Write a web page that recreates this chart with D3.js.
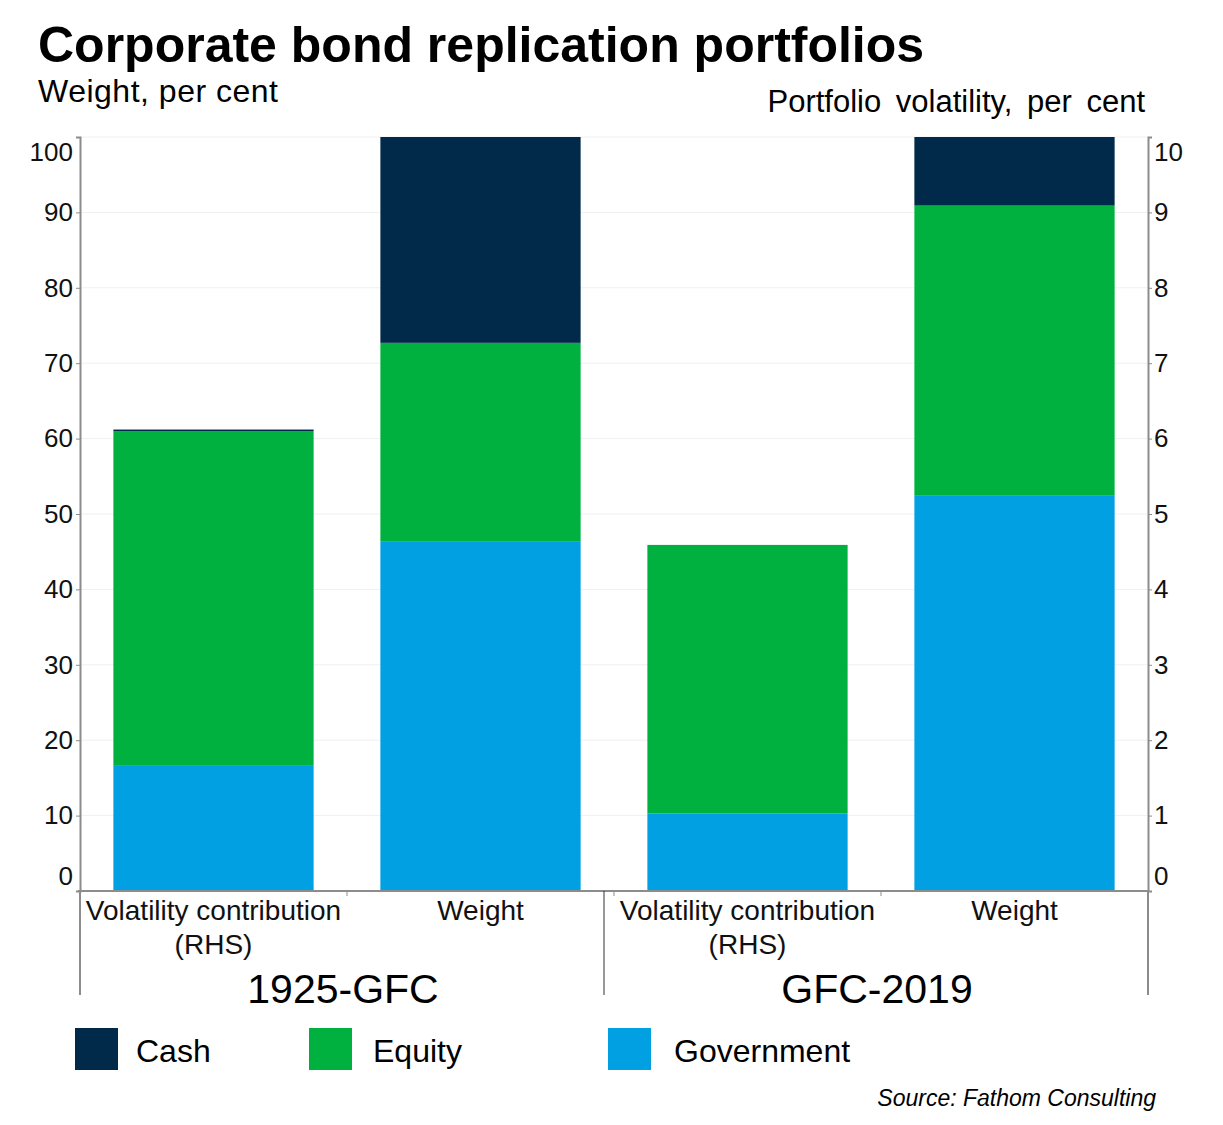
<!DOCTYPE html>
<html><head><meta charset="utf-8">
<script src="https://cdn.jsdelivr.net/npm/d3@7"></script>
<style>body{margin:0;background:#fff;font-family:"Liberation Sans",Arial,sans-serif}</style>
</head><body>
<svg id="c" width="1223" height="1125"></svg>
<script>
// Data
const groups = ["1925-GFC", "GFC-2019"];
const categories = ["Volatility contribution (RHS)", "Weight", "Volatility contribution (RHS)", "Weight"];
const categoryGroup = [0, 0, 1, 1];
const usesRHS = [true, false, true, false];
const seriesNames = ["Government", "Equity", "Cash"];
const government = [1.67, 46.4, 1.03, 52.5];
const equity = [4.43, 26.3, 3.56, 38.4];
const cash = [0.02, 27.3, 0.0, 9.1];
const leftTicks = [0,10,20,30,40,50,60,70,80,90,100];
const rightTicks = [0,1,2,3,4,5,6,7,8,9,10];
const colors = {Cash:"#012a4a", Equity:"#00b140", Government:"#00a0e3"};

const svg = d3.select("#c");
const L = 80, R = 1148, T = 137, B = 891;
const x = d3.scaleBand().domain(d3.range(categories.length)).range([L, R]).paddingInner(0.25).paddingOuter(0.125);
const yL = d3.scaleLinear().domain([0,100]).range([B, T]);
const yR = d3.scaleLinear().domain([0,10]).range([B, T]);

// gridlines
svg.append("g").selectAll("line").data(leftTicks.slice(1)).join("line")
  .attr("x1", L).attr("x2", R).attr("y1", d=>yL(d)).attr("y2", d=>yL(d))
  .attr("stroke", "#f0f0f0").attr("stroke-width", 1);

// stacked bars
const rows = categories.map((c,i)=>({i, Government:government[i], Equity:equity[i], Cash:cash[i]}));
const stack = d3.stack().keys(seriesNames)(rows);
svg.append("g").selectAll("g").data(stack).join("g")
  .attr("fill", s=>colors[s.key])
  .selectAll("rect").data(s=>s).join("rect")
  .attr("x", d=>x(d.data.i))
  .attr("width", x.bandwidth())
  .attr("y", d=>{const y = usesRHS[d.data.i]?yR:yL; return y(d[1]);})
  .attr("height", d=>{const y = usesRHS[d.data.i]?yR:yL; return y(d[0])-y(d[1]);});

const fs = 26;
// left axis
const gl = svg.append("g").attr("transform",`translate(${L},0)`)
  .call(d3.axisLeft(yL).tickValues(leftTicks).tickSize(4).tickPadding(3));
gl.select(".domain").attr("stroke","#8c8c8c").attr("stroke-width",2);
gl.selectAll(".tick line").attr("stroke","#8c8c8c");
gl.selectAll(".tick text").attr("font-size",fs).attr("font-family","Liberation Sans, Arial").attr("fill","#111")
  .attr("dy", d=> d===100 ? "0.92em" : d===0 ? "-0.25em" : "0.32em");
// right axis
const gr = svg.append("g").attr("transform",`translate(${R},0)`)
  .call(d3.axisRight(yR).tickValues(rightTicks).tickSize(4).tickPadding(2));
gr.select(".domain").attr("stroke","#8c8c8c").attr("stroke-width",2);
gr.selectAll(".tick line").attr("stroke","#8c8c8c");
gr.selectAll(".tick text").attr("font-size",fs).attr("font-family","Liberation Sans, Arial").attr("fill","#111")
  .attr("dy", d=> d===10 ? "0.92em" : d===0 ? "-0.25em" : "0.32em");

// bottom axis line and category boundary ticks
svg.append("line").attr("x1",L-2).attr("x2",R+1).attr("y1",B).attr("y2",B).attr("stroke","#8c8c8c").attr("stroke-width",2);
const step = x.step();
svg.append("g").selectAll("line").data(d3.range(categories.length+1)).join("line")
  .attr("x1", i=>x(0)-x.step()*x.paddingOuter()+i*step).attr("x2", i=>x(0)-x.step()*x.paddingOuter()+i*step)
  .attr("y1",B).attr("y2",B+5).attr("stroke","#8c8c8c").attr("stroke-width",1);
// vertical extension lines
svg.append("line").attr("x1",L).attr("x2",L).attr("y1",B).attr("y2",995).attr("stroke","#8c8c8c").attr("stroke-width",2);
svg.append("line").attr("x1",R).attr("x2",R).attr("y1",B).attr("y2",995).attr("stroke","#8c8c8c").attr("stroke-width",2);
svg.append("line").attr("x1",604).attr("x2",604).attr("y1",B).attr("y2",995).attr("stroke","#333").attr("stroke-width",1);

// category labels
categories.forEach((c,i)=>{
  const cx = x(i)+x.bandwidth()/2;
  const parts = c.includes("(RHS)") ? ["Volatility contribution","(RHS)"] : [c];
  parts.forEach((p,j)=>{
    svg.append("text").attr("x",cx).attr("y",920+j*34).attr("text-anchor","middle")
      .attr("font-size",28).attr("fill","#111").text(p);
  });
});
// group labels
groups.forEach((g,k)=>{
  const idx = d3.range(categories.length).filter(i=>categoryGroup[i]===k);
  const x0 = x(idx[0]), x1 = x(idx[idx.length-1])+x.bandwidth();
  svg.append("text").attr("x",(x0+x1)/2 - 4).attr("y",1003).attr("text-anchor","middle")
    .attr("font-size",41).attr("fill","#000").text(g);
});

// titles
svg.append("text").attr("x",38).attr("y",62).attr("font-size",50).attr("font-weight","bold").attr("fill","#000")
  .text("Corporate bond replication portfolios");
svg.append("text").attr("x",38).attr("y",102).attr("font-size",32).attr("fill","#000")
  .attr("textLength",240).attr("lengthAdjust","spacing").text("Weight, per cent");
svg.append("text").attr("x",1145).attr("y",112).attr("font-size",31).attr("text-anchor","end").attr("fill","#000")
  .attr("word-spacing",6).text("Portfolio volatility, per cent");

// legend
const legend = [{k:"Cash",x:75,tx:136},{k:"Equity",x:309,tx:373},{k:"Government",x:608,tx:674}];
legend.forEach(l=>{
  svg.append("rect").attr("x",l.x).attr("y",1028).attr("width",43).attr("height",42).attr("fill",colors[l.k]);
  svg.append("text").attr("x",l.tx).attr("y",1062).attr("font-size",32).attr("fill","#000").text(l.k);
});
svg.append("text").attr("x",1156).attr("y",1106).attr("text-anchor","end").attr("font-size",23)
  .attr("font-style","italic").attr("fill","#000").text("Source: Fathom Consulting");
</script>
</body></html>
